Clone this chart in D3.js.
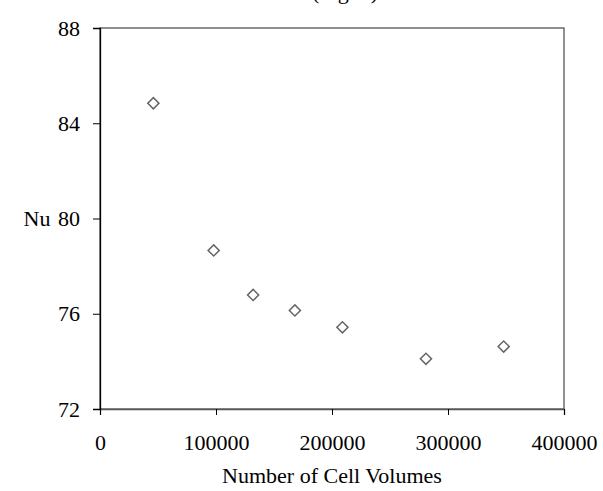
<!DOCTYPE html>
<html>
<head>
<meta charset="utf-8">
<script src="https://cdn.jsdelivr.net/npm/d3@7"></script>
<style>
  body { margin: 0; background: #fff; }
  text { font-family: "Liberation Serif", "Times New Roman", serif; fill: #000; }
</style>
</head>
<body>
<script>
// grid study: Nu against mesh size
var cellVolumes = [46000, 98000, 132000, 168000, 209000, 281000, 348000];
var nuValues    = [84.84, 78.66, 76.79, 76.14, 75.43, 74.11, 74.62];
var xTicks = [0, 100000, 200000, 300000, 400000];
var yTicks = [72, 76, 80, 84, 88];

var width = 603, height = 491;
var margin = {top: 28, right: 39, bottom: 82, left: 100};
var fontSize = "22px";

var svg = d3.select("body").append("svg")
    .attr("width", width)
    .attr("height", height);

var x = d3.scaleLinear().domain([0, 400000]).range([margin.left, width - margin.right]);
var y = d3.scaleLinear().domain([72, 88]).range([height - margin.bottom, margin.top]);

// cut-off title at the very top
svg.append("text")
    .attr("x", 345).attr("y", -1)
    .attr("text-anchor", "middle")
    .style("font-size", fontSize)
    .text("(Fig. 5)");

// plot frame (top, right in grey)
svg.append("rect")
    .attr("x", x(0)).attr("y", y(88))
    .attr("width", x(400000) - x(0))
    .attr("height", y(72) - y(88))
    .attr("fill", "none")
    .attr("stroke", "#555")
    .attr("stroke-width", 1.3);

var xAxis = svg.append("g")
    .attr("transform", "translate(0," + y(72) + ")")
    .call(d3.axisBottom(x).tickValues(xTicks).tickSize(6).tickPadding(19).tickFormat(d3.format("d")));
xAxis.select(".domain").attr("stroke", "#555").attr("stroke-width", 1.3);
xAxis.selectAll(".tick line").attr("stroke", "#000");
xAxis.selectAll("text").style("font-size", fontSize).style("font-family", "Liberation Serif");

var yAxis = svg.append("g")
    .attr("transform", "translate(" + x(0) + ",0)")
    .call(d3.axisLeft(y).tickValues(yTicks).tickSize(7).tickPadding(13));
yAxis.select(".domain").attr("stroke", "#000").attr("stroke-width", 1.3);
yAxis.selectAll(".tick line").attr("stroke", "#000");
yAxis.selectAll("text").style("font-size", fontSize).style("font-family", "Liberation Serif");

// axis titles
svg.append("text")
    .attr("x", (x(0) + x(400000)) / 2).attr("y", 483)
    .attr("text-anchor", "middle")
    .style("font-size", fontSize)
    .text("Number of Cell Volumes");

svg.append("text")
    .attr("x", 37).attr("y", y(80) + 7)
    .attr("text-anchor", "middle")
    .style("font-size", fontSize)
    .text("Nu");

// diamond markers
var diamond = d3.symbol().type(d3.symbolSquare).size(62);
svg.append("g").selectAll("path")
    .data(cellVolumes)
    .enter().append("path")
    .attr("d", diamond)
    .attr("transform", function (d, i) {
        return "translate(" + x(d) + "," + y(nuValues[i]) + ") rotate(45)";
    })
    .attr("fill", "#fff")
    .attr("stroke", "#666")
    .attr("stroke-width", 1.5);
</script>
</body>
</html>
